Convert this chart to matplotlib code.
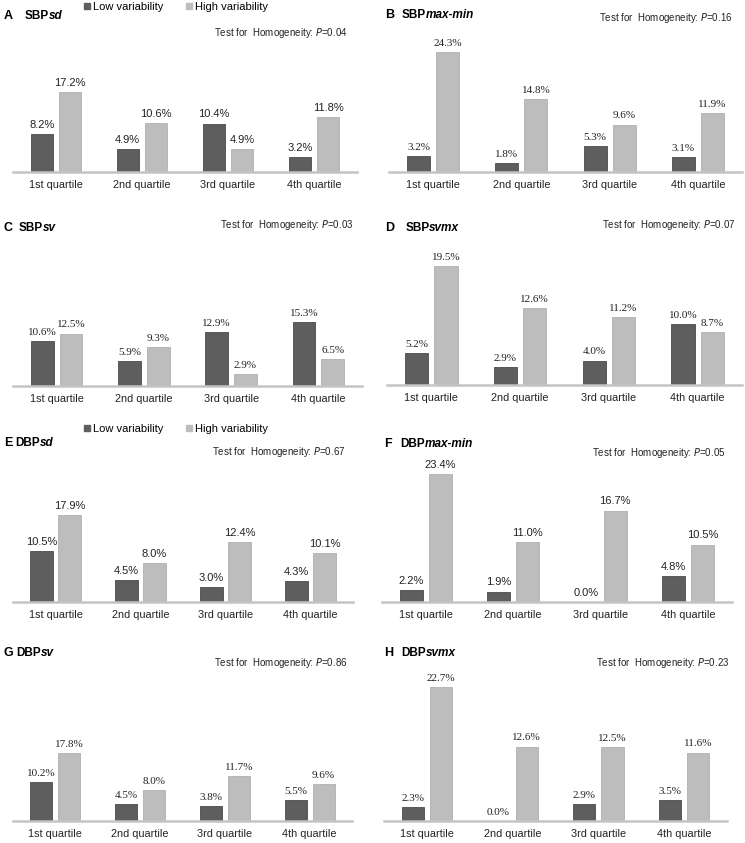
import numpy as np
import matplotlib
matplotlib.use("Agg")
import matplotlib.pyplot as plt
from matplotlib.patches import Patch

W, H = 745, 843

quartiles = ["1st quartile", "2nd quartile", "3rd quartile", "4th quartile"]

# panel letters, measure names
letters = ["A", "B", "C", "D", "E", "F", "G", "H"]
prefix = ["SBP", "SBP", "SBP", "SBP", "DBP", "DBP", "DBP", "DBP"]
suffix = ["sd", "max-min", "sv", "svmx", "sd", "max-min", "sv", "svmx"]

low_A = [8.2, 4.9, 10.4, 3.2]
high_A = [17.2, 10.6, 4.9, 11.8]
low_B = [3.2, 1.8, 5.3, 3.1]
high_B = [24.3, 14.8, 9.6, 11.9]
low_C = [10.6, 5.9, 12.9, 15.3]
high_C = [12.5, 9.3, 2.9, 6.5]
low_D = [5.2, 2.9, 4.0, 10.0]
high_D = [19.5, 12.6, 11.2, 8.7]
low_E = [10.5, 4.5, 3.0, 4.3]
high_E = [17.9, 8.0, 12.4, 10.1]
low_F = [2.2, 1.9, 0.0, 4.8]
high_F = [23.4, 11.0, 16.7, 10.5]
low_G = [10.2, 4.5, 3.8, 5.5]
high_G = [17.8, 8.0, 11.7, 9.6]
low_H = [2.3, 0.0, 2.9, 3.5]
high_H = [22.7, 12.6, 12.5, 11.6]

p_values = ["0.04", "0.16", "0.03", "0.07", "0.67", "0.05", "0.86", "0.23"]

lows = [low_A, low_B, low_C, low_D, low_E, low_F, low_G, low_H]
highs = [high_A, high_B, high_C, high_D, high_E, high_F, high_G, high_H]

# layout (pixels): axis left, right, baseline, pixels per percent
ax_x = [(13, 357), (389, 742), (13, 362), (387, 742),
        (13, 353), (382, 732), (13, 352), (384, 727)]
base_y = [172, 172, 386, 385, 602, 602, 821, 821]
px_per = [4.65, 4.94, 4.2, 6.1, 4.86, 5.47, 3.82, 5.9]
title_xy = [(4, 16), (385, 15), (4, 228), (385, 228),
            (4, 443), (384, 444), (4, 653), (384, 653)]
title_gap = [12, 8, 6, 11, 3, 9, 3, 8]
test_xy = [(348, 33), (732, 18), (353, 225), (735, 225),
           (345, 452), (725, 453), (347, 663), (729, 663)]
serif_labels = [False, True, True, True, False, False, True, True]

dark = "#5e5e5e"
light = "#bdbdbd"
sans = "Liberation Sans"
serif = "Liberation Serif"

fig = plt.figure(figsize=(W / 100, H / 100), dpi=100)
fig.patch.set_facecolor("white")

AX_H = 150
x = np.arange(4) + 0.5
bw = 0.26
off = 0.165

for i in range(8):
    x0, x1 = ax_x[i]
    b = base_y[i]
    ax = fig.add_axes([x0 / W, 1 - b / H, (x1 - x0) / W, AX_H / H])
    ax.patch.set_alpha(0)
    ax.bar(x - off, lows[i], bw, color=dark, edgecolor="#4a4a4a", linewidth=0.6)
    ax.bar(x + off, highs[i], bw, color=light, edgecolor="#b0b0b0", linewidth=0.6)
    ax.set_xlim(0, 4)
    ax.set_ylim(0, AX_H / px_per[i])
    for s in ["top", "right", "left"]:
        ax.spines[s].set_visible(False)
    ax.spines["bottom"].set_color("#c4c4c4")
    ax.spines["bottom"].set_linewidth(1.8)
    ax.set_yticks([])
    ax.set_xticks(x)
    ax.set_xticklabels(quartiles, fontsize=7.8, family=sans, color="#222222")
    ax.tick_params(axis="x", length=0, pad=6)
    fam = serif if serif_labels[i] else sans
    fs = 8
    for xi, v in zip(x - off, lows[i]):
        ax.annotate(f"{v:.1f}%", (xi, v), xytext=(0, 3), textcoords="offset points",
                    ha="center", va="bottom", fontsize=fs, family=fam, color="#222222")
    for xi, v in zip(x + off, highs[i]):
        ax.annotate(f"{v:.1f}%", (xi, v), xytext=(0, 3), textcoords="offset points",
                    ha="center", va="bottom", fontsize=fs, family=fam, color="#222222")

    # panel title
    tx, ty = title_xy[i]
    t1 = fig.text(tx / W, 1 - ty / H, letters[i], fontsize=9, fontweight="bold",
                  family=sans, va="center", ha="left")
    t2 = plt.annotate(prefix[i], xy=(1, 0), xycoords=t1,
                      xytext=(title_gap[i] * 0.72, 0), textcoords="offset points",
                      fontsize=8.5, fontweight="bold", family=sans,
                      va="bottom", ha="left")
    plt.annotate(suffix[i], xy=(1, 0), xycoords=t2, xytext=(0, 0),
                 textcoords="offset points", fontsize=8.5, fontweight="bold",
                 fontstyle="italic", family=sans, va="bottom", ha="left")

    # homogeneity test
    px, py = test_xy[i]
    fig.text(px / W, 1 - py / H, "Test for  Homogeneity: $\\it{P}$=" + p_values[i],
             fontsize=7, family=sans, ha="right", va="center", color="#222222")

# legends for A and E
handles = [Patch(facecolor=dark, edgecolor=dark), Patch(facecolor=light, edgecolor=light)]
for ly in [7, 429]:
    fig.legend(handles, ["Low variability", "High variability"], loc="center left",
               bbox_to_anchor=(84 / W, 1 - ly / H), ncol=2, frameon=False,
               handlelength=0.55, handleheight=0.55, handletextpad=0.3,
               columnspacing=2.0, borderpad=0, borderaxespad=0,
               prop={"family": sans, "size": 8})

fig.savefig("out.png", dpi=100)
